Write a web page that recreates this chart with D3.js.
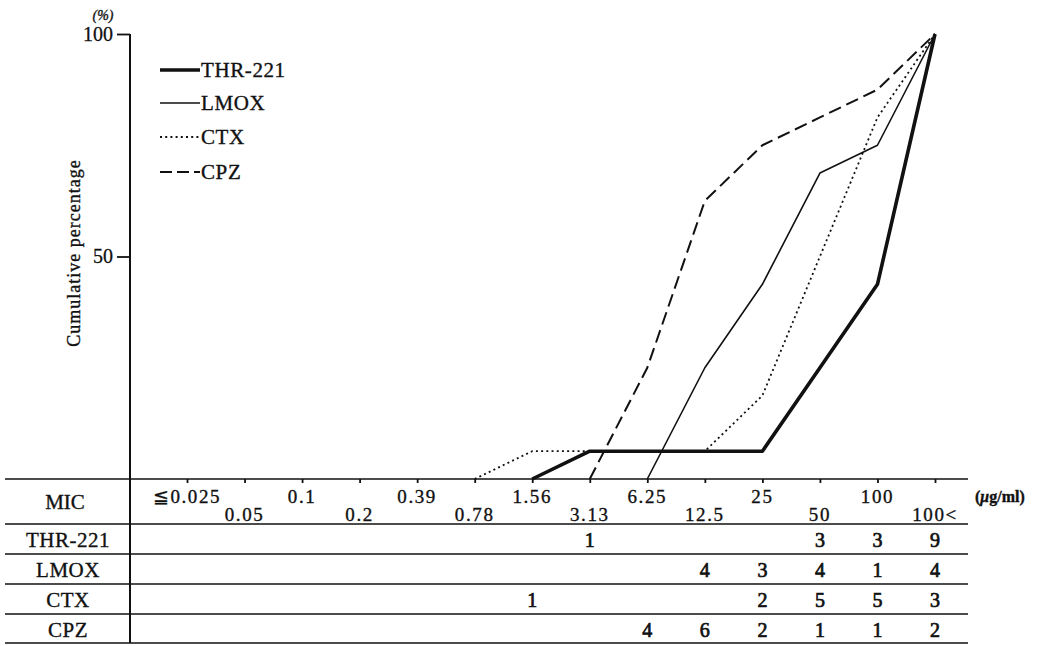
<!DOCTYPE html>
<html>
<head>
<meta charset="utf-8">
<script src="https://cdn.jsdelivr.net/npm/d3@7"></script>
<style>
  html, body { margin: 0; padding: 0; background: #fff; }
  svg text { font-family: "Liberation Serif", "DejaVu Serif", serif; fill: #111; stroke: #111; stroke-width: 0.35px; }
</style>
</head>
<body>
<svg id="chart" width="1043" height="646"></svg>
<script>
// MIC steps (µg/ml)
const mics = ["≦0.025", "0.05", "0.1", "0.2", "0.39", "0.78", "1.56", "3.13", "6.25", "12.5", "25", "50", "100", "100<"];

// Number of strains inhibited at each MIC step (null = none)
const drugs = ["THR-221", "LMOX", "CTX", "CPZ"];
const countsTHR  = [null, null, null, null, null, null, null, 1, null, null, null, 3, 3, 9];
const countsLMOX = [null, null, null, null, null, null, null, null, null, 4, 3, 4, 1, 4];
const countsCTX  = [null, null, null, null, null, null, 1, null, null, null, 2, 5, 5, 3];
const countsCPZ  = [null, null, null, null, null, null, null, null, 4, 6, 2, 1, 1, 2];
const countTable = [countsTHR, countsLMOX, countsCTX, countsCPZ];

const yTicks = [50, 100];

const svg = d3.select("#chart");
const ink = "#111";

const x = d3.scalePoint().domain(mics).range([187, 935]);
const y = d3.scaleLinear().domain([0, 100]).range([479, 34]);

// cumulative percentage curve, starting from 0 one step before the first count
function cumulative(counts) {
  const total = d3.sum(counts);
  const first = counts.findIndex(c => c != null);
  const run = d3.cumsum(counts.map(c => c || 0));
  const pts = [];
  for (let i = Math.max(first - 1, 0); i < mics.length; i++) {
    pts.push({ mic: mics[i], pct: run[i] / total * 100 });
  }
  return pts;
}

const styles = {
  "THR-221": { width: 3.6, dash: null },
  "LMOX":    { width: 1.6, dash: null },
  "CTX":     { width: 1.8, dash: "2,3.2" },
  "CPZ":     { width: 2.0, dash: "13,6" }
};

// ---- table grid ----
const tableLeft = 5, tableRight = 968;
const rowLines = [479, 524, 554, 584, 614, 643];
svg.append("g").selectAll("line").data(rowLines).join("line")
  .attr("x1", tableLeft).attr("x2", tableRight)
  .attr("y1", d => d).attr("y2", d => d)
  .attr("stroke", ink).attr("stroke-width", 1.5);

// ---- y axis ----
const yAxis = d3.axisLeft(y).tickValues(yTicks).tickSize(13).tickPadding(4);
const gy = svg.append("g").attr("transform", "translate(130,0)").call(yAxis);
gy.select(".domain").remove();
gy.selectAll(".tick line").attr("stroke", ink).attr("stroke-width", 1.8);
gy.selectAll(".tick text").attr("font-size", 20).attr("fill", ink)
  .attr("font-family", "Liberation Sans, Arial, sans-serif")
  .style("stroke-width", "0.3px");
// vertical rule shared by axis and table
svg.append("line").attr("x1", 130).attr("x2", 130).attr("y1", y(100)).attr("y2", 643)
  .attr("stroke", ink).attr("stroke-width", 2);

svg.append("text").attr("x", 103).attr("y", 20).attr("text-anchor", "middle")
  .attr("font-size", 14).attr("font-style", "italic")
  .attr("font-family", "Liberation Sans, Arial, sans-serif").text("(%)");

svg.append("text")
  .attr("transform", "translate(80,253) rotate(-90)")
  .attr("text-anchor", "middle").attr("font-size", 18).attr("letter-spacing", 1)
  .text("Cumulative percentage");

// ---- x axis (MIC steps) ----
const xAxis = d3.axisBottom(x).tickSize(4).tickFormat("");
const gx = svg.append("g").attr("transform", "translate(0,479)").call(xAxis);
gx.select(".domain").remove();
gx.selectAll(".tick line").attr("stroke", ink).attr("stroke-width", 1.8);

svg.append("g").selectAll("text").data(mics).join("text")
  .attr("x", d => x(d))
  .attr("y", (d, i) => i % 2 === 0 ? 503 : 521)
  .attr("text-anchor", "middle")
  .attr("font-size", 19)
  .attr("letter-spacing", 1.6)
  .text(d => d);

svg.append("text").attr("x", 975).attr("y", 502).attr("font-size", 16)
  .attr("font-weight", "bold")
  .html('(<tspan font-style="italic">μ</tspan>g/ml)');

svg.append("text").attr("x", 65).attr("y", 509).attr("text-anchor", "middle")
  .attr("font-size", 21).text("MIC");

// ---- count rows ----
drugs.forEach((name, r) => {
  const cy = (rowLines[r + 1] + rowLines[r + 2]) / 2 + 1;
  svg.append("text").attr("x", 68).attr("y", cy).attr("dy", "0.35em")
    .attr("text-anchor", "middle").attr("font-size", 21).attr("letter-spacing", 0.5)
    .text(name);
  svg.append("g").selectAll("text")
    .data(countTable[r].map((c, i) => ({ c, mic: mics[i] })).filter(d => d.c != null))
    .join("text")
    .attr("x", d => x(d.mic)).attr("y", cy).attr("dy", "0.35em")
    .attr("text-anchor", "middle").attr("font-size", 20)
    .style("stroke-width", "0.7px")
    .text(d => d.c);
});

// ---- cumulative curves ----
const line = d3.line().x(d => x(d.mic)).y(d => y(d.pct));
const order = ["LMOX", "CPZ", "THR-221", "CTX"];
order.forEach(name => {
  const counts = countTable[drugs.indexOf(name)];
  const st = styles[name];
  svg.append("path")
    .datum(cumulative(counts))
    .attr("d", line)
    .attr("fill", "none").attr("stroke", ink)
    .attr("stroke-width", st.width)
    .attr("stroke-linejoin", "round")
    .attr("stroke-dasharray", st.dash);
});

// ---- legend ----
const legendY = [70, 103, 137, 172];
const lg = svg.append("g");
drugs.forEach((name, i) => {
  const st = styles[name];
  lg.append("line").attr("x1", 160).attr("x2", 200)
    .attr("y1", legendY[i]).attr("y2", legendY[i])
    .attr("stroke", ink).attr("stroke-width", st.width)
    .attr("stroke-dasharray", name === "CPZ" ? "12,5" : st.dash);
  lg.append("text").attr("x", 201).attr("y", legendY[i]).attr("dy", "0.35em")
    .attr("font-size", 21).attr("letter-spacing", 0.6).text(name);
});
</script>
</body>
</html>
